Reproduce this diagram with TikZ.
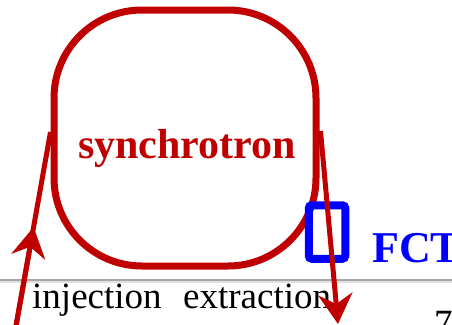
\documentclass[tikz,border=0pt]{standalone}
\usepackage{fontspec}
\setmainfont{Liberation Serif}
\usetikzlibrary{arrows.meta,calc}
\definecolor{ringred}{RGB}{192,0,0}
\definecolor{fctblue}{RGB}{0,0,255}
\tikzset{
  ringstyle/.style={draw=ringred, line width=7pt, rounded corners=88pt, minimum width=262pt, minimum height=256pt, inner sep=0pt},
  beamline/.style={draw=ringred, line width=5pt},
  beamtip/.style={-{Stealth[length=30pt,width=34pt,inset=10pt]}},
  fctbox/.style={draw=fctblue, line width=8pt, rounded corners=3pt, minimum width=36.5pt, minimum height=53.5pt, inner sep=0pt},
  redlabel/.style={text=ringred, font=\fontsize{42}{50}\selectfont\bfseries, inner sep=0pt},
  bluelabel/.style={text=fctblue, font=\fontsize{44}{52}\selectfont\bfseries, inner sep=0pt},
  blacklabel/.style={text=black, font=\fontsize{37}{44}\selectfont, inner sep=0pt}
}
\begin{document}
\begin{tikzpicture}[x=1pt,y=-1pt]
\useasboundingbox (0,0) rectangle (452,324);
% separator line
\coordinate (sepL) at (0,280);
\coordinate (sepR) at (452,280);
\draw[gray!70, line width=2pt] (sepL) -- (sepR);
\draw[gray!25, line width=2pt] ($(sepL)+(0,2.2)$) -- ($(sepR)+(0,2.2)$);
% ring
\node[ringstyle] (ring) at (185,138) {};
\node[redlabel, anchor=base] (synlabel) at (187,158) {synchrotron};
% FCT
\node[fctbox] (fct) at (327,232) {};
\node[bluelabel, anchor=base west] (fctlabel) at (372,262) {FCT};
% labels
\node[blacklabel, anchor=base west] (inj) at (32,308) {injection};
\node[blacklabel, anchor=base west] (ext) at (183,308) {extraction};
\node[blacklabel, anchor=base west] (pagenum) at (434,335) {7};
% beams
\coordinate (injA) at (16,326);
\coordinate (extB) at (338,324);
\draw[beamline] (injA) -- ($(ring.west)+(0,-6)$);
\draw[beamline, beamtip] (injA) -- ($(injA)!0.51!($(ring.west)+(0,-6)$)$);
\draw[beamline, beamtip] ($(ring.east)+(1,-7)$) -- (extB);
\end{tikzpicture}
\end{document}
